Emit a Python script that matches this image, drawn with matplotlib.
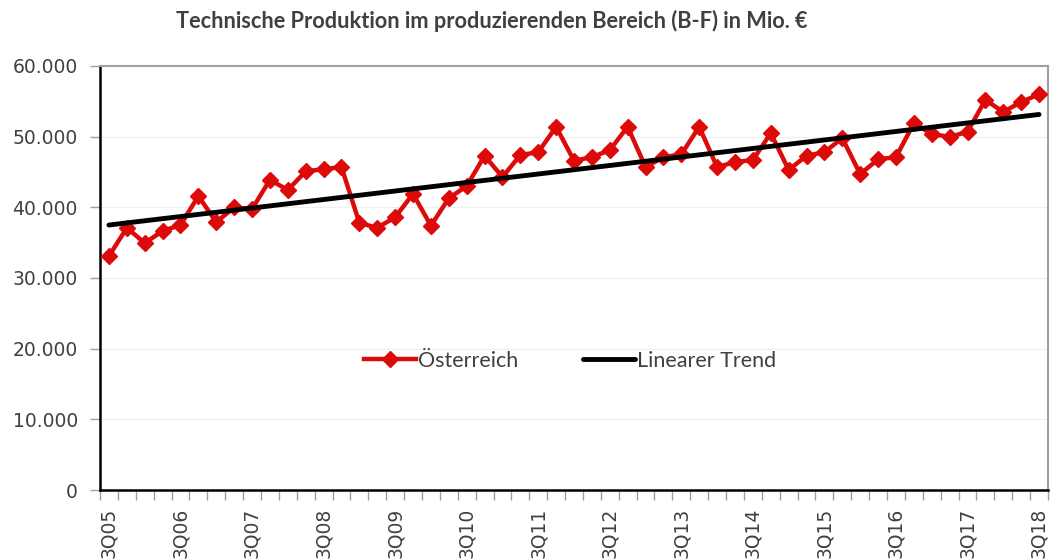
import numpy as np
import matplotlib
matplotlib.use("Agg")
import matplotlib.pyplot as plt

# ---- data ----
quarters = []
for y in range(5, 19):
    for q in (1, 2, 3, 4):
        if (y == 5 and q < 3) or (y == 18 and q > 3):
            continue
        quarters.append(f"{q}Q{y:02d}")

oesterreich = [33100, 37100, 34950, 36650, 37500, 41600, 37900, 40000, 39750, 43900,
               42450, 45100, 45400, 45700, 37800, 37100, 38600, 41900, 37400, 41300,
               43000, 47300, 44300, 47400, 47800, 51400, 46600, 47100, 48100, 51400,
               45700, 47100, 47500, 51400, 45700, 46400, 46700, 50500, 45300, 47300,
               47800, 49800, 44700, 46800, 47100, 51900, 50400, 49950, 50700, 55200,
               53500, 54900, 56000]

yticks = [0, 10000, 20000, 30000, 40000, 50000, 60000]
ytick_labels = ["0", "10.000", "20.000", "30.000", "40.000", "50.000", "60.000"]

title = "Technische Produktion im produzierenden Bereich (B-F) in Mio. €"
label_series = "Österreich"
label_trend = "Linearer Trend"

# ---- figure ----
fig = plt.figure(figsize=(10.52, 5.59), dpi=100)
ax = fig.add_axes([100/1052, 1-490/559, 948/1052, 424/559])

x = np.arange(len(oesterreich))
coef = np.polyfit(x, oesterreich, 1)
trend = np.polyval(coef, x)

red = "#DD0A0A"
ax.plot(x, oesterreich, color=red, lw=3.2, marker="D", ms=8, mec=red, mfc=red,
        label=label_series, zorder=3)
ax.plot(x, trend, color="black", lw=3.5, label=label_trend, solid_capstyle="round", zorder=4)

ax.set_xlim(-0.5, len(x) - 0.5)
ax.set_ylim(0, 60000)

ax.set_yticks(yticks)
ax.set_yticklabels(ytick_labels, family="DejaVu Sans")
ax.yaxis.grid(True, color="#EFEFEF", lw=0.8)
ax.set_axisbelow(True)

# major ticks at category boundaries (no labels), minor ticks for labels
ax.set_xticks(np.arange(-0.5, len(x), 1.0))
ax.set_xticklabels([])
lab_pos = list(range(0, len(x), 4))
ax.set_xticks(lab_pos, minor=True)
ax.set_xticklabels([quarters[i] for i in lab_pos], minor=True, rotation=90,
                   fontsize=13.5, color="#404040", va="top", ha="center",
                   family="DejaVu Sans")
ax.tick_params(axis="x", which="major", length=7, color="#A0A0A0", width=1)
ax.tick_params(axis="x", which="minor", length=0, pad=13)
ax.tick_params(axis="y", length=7, color="#A0A0A0", width=1, labelsize=13.5,
               labelcolor="#404040", pad=9)

for s in ("top", "right"):
    ax.spines[s].set_color("#A0A0A0")
    ax.spines[s].set_linewidth(1.5)
for s in ("left", "bottom"):
    ax.spines[s].set_color("black")
    ax.spines[s].set_linewidth(1.8)

fig.text(492/1052, 1-21/559, title, ha="center", va="center", fontsize=15.7,
         fontweight="bold", color="#404040", family="Lato")

leg = fig.legend(loc="center", bbox_to_anchor=(570/1052, 1-361/559), ncol=2, frameon=False,
                 prop={"family": "Lato", "size": 15.5}, handlelength=2.4, columnspacing=3.0,
                 handletextpad=0.1)
for t in leg.get_texts():
    t.set_color("#404040")

fig.savefig("out.png", dpi=100)
